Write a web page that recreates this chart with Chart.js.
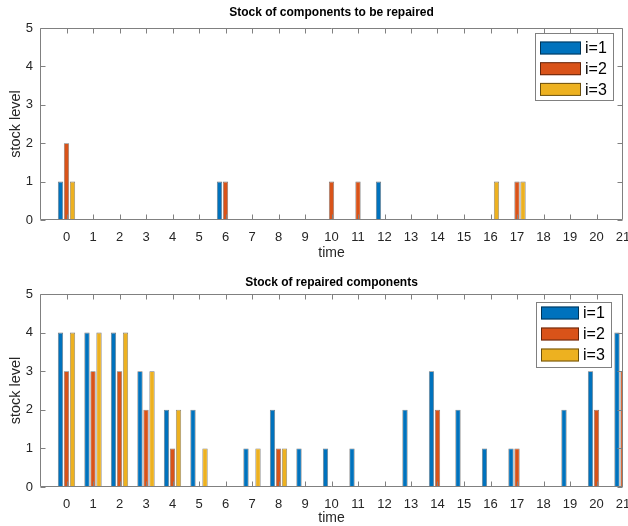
<!DOCTYPE html>
<html><head><meta charset="utf-8">
<script src="https://cdn.jsdelivr.net/npm/chart.js@4.4.0/dist/chart.umd.min.js"></script>
<style>
html,body{margin:0;padding:0;background:#fff;}
#wrap{position:relative;width:628px;height:526px;overflow:hidden;}
.pane{position:absolute;left:0;width:628px;}
canvas{display:block;}
</style></head><body>
<div id="wrap">
<div class="pane" style="top:0;height:262px"><canvas id="c1" width="628" height="262"></canvas></div>
<div class="pane" style="top:262px;height:264px"><canvas id="c2" width="628" height="264"></canvas></div>
</div>
<script>
// ---- data ----
const times = [0,1,2,3,4,5,6,7,8,9,10,11,12,13,14,15,16,17,18,19,20,21];
const tickLabels = ['0','1','2','3','4','5','6','7','8','9','10','11','12','13','14','15','16','17','18','19','20','21'];
const seriesLabels = ['i=1','i=2','i=3'];
const seriesColors = ['#0072BD','#D95319','#EDB120'];
const yTicks = [0,1,2,3,4,5];

const toRepair1 = [1,0,0,0,0,0,1,0,0,0,0,0,1,0,0,0,0,0,0,0,0,0];
const toRepair2 = [2,0,0,0,0,0,1,0,0,0,1,1,0,0,0,0,0,1,0,0,0,0];
const toRepair3 = [1,0,0,0,0,0,0,0,0,0,0,0,0,0,0,0,1,1,0,0,0,0];

const repaired1 = [4,4,4,3,2,2,0,1,2,1,1,1,0,2,3,2,1,1,0,2,3,4];
const repaired2 = [3,3,3,2,1,0,0,0,1,0,0,0,0,0,2,0,0,1,0,0,2,3];
const repaired3 = [4,4,4,3,2,1,0,1,1,0,0,0,0,0,0,0,0,0,0,0,0,4];

const title1 = 'Stock of components to be repaired';
const title2 = 'Stock of repaired components';
const xTitle = 'time';
const yTitle = 'stock level';

// ---- styling helpers ----
const FONT = 'Helvetica, Arial, "Liberation Sans", sans-serif';
const TXT = '#262626';
const AXC = '#808080';

const frame = {
  id: 'frame',
  afterDatasetsDraw(chart) {
    const {ctx, chartArea: a, scales} = chart;
    const L = Math.round(a.left) + 0.5, R = Math.round(a.right) - 0.5;
    const T = Math.round(a.top) + 0.5, B = Math.round(a.bottom) - 0.5;
    ctx.save();
    ctx.strokeStyle = AXC; ctx.lineWidth = 1;
    ctx.beginPath();
    ctx.rect(L, T, R - L, B - T);
    const tl = 5;
    scales.x.ticks.forEach(t => {
      const x = Math.round(scales.x.getPixelForValue(t.value)) + 0.5;
      if (x >= R - 1) return;
      ctx.moveTo(x, B); ctx.lineTo(x, B - tl);
      ctx.moveTo(x, T); ctx.lineTo(x, T + tl);
    });
    scales.y.ticks.forEach(t => {
      const y = Math.round(scales.y.getPixelForValue(t.value)) + 0.5;
      ctx.moveTo(L, y); ctx.lineTo(L + tl, y);
      ctx.moveTo(R, y); ctx.lineTo(R - tl, y);
    });
    ctx.stroke();
    ctx.restore();
  }
};

const titleAndLegend = {
  id: 'titleAndLegend',
  afterDraw(chart, args, opts) {
    const {ctx, chartArea: a} = chart;
    ctx.save();
    ctx.fillStyle = '#000';
    ctx.font = 'bold 12px ' + FONT;
    ctx.textAlign = 'center'; ctx.textBaseline = 'middle';
    ctx.fillText(opts.title, (a.left + a.right) / 2, opts.titleY);
    // legend
    const b = opts.box;
    ctx.fillStyle = '#fff';
    ctx.fillRect(b.x, b.y, b.w, b.h);
    ctx.strokeStyle = AXC; ctx.lineWidth = 1;
    ctx.strokeRect(b.x + 0.5, b.y + 0.5, b.w, b.h);
    ctx.font = '16px ' + FONT;
    ctx.textAlign = 'left';
    chart.data.datasets.forEach((ds, i) => {
      const cy = b.y + opts.row0 + i * opts.rowGap;
      ctx.fillStyle = ds.backgroundColor;
      ctx.fillRect(b.x + opts.swX, cy - 6.5, opts.swW, 13);
      ctx.strokeStyle = 'rgba(0,0,0,0.55)';
      ctx.strokeRect(b.x + opts.swX + 0.5, cy - 6, opts.swW - 1, 12);
      ctx.fillStyle = '#000';
      ctx.fillText(ds.label, b.x + opts.swX + opts.swW + 4, cy + 1);
    });
    ctx.restore();
  }
};

function makeChart(id, series, cfg) {
  return new Chart(document.getElementById(id), {
    type: 'bar',
    data: {
      labels: times,
      datasets: series.map((vals, i) => ({
        label: seriesLabels[i],
        data: vals,
        backgroundColor: seriesColors[i],
        borderColor: 'rgba(0,0,0,0.55)',
        borderWidth: 0.8,
        borderSkipped: false,
        categoryPercentage: 0.68,
        barPercentage: 0.88,
        clip: 0
      }))
    },
    options: {
      responsive: false,
      animation: false,
      events: [],
      layout: { padding: { top: cfg.padTop, right: 5, left: 0, bottom: 0 } },
      plugins: {
        legend: { display: false },
        title: { display: false },
        tooltip: { enabled: false },
        titleAndLegend: cfg.tl
      },
      scales: {
        x: {
          type: 'linear', min: -1, max: 21, offset: false,
          afterBuildTicks: s => { s.ticks = times.map(v => ({ value: v })); },
          afterFit: s => { s.height = cfg.xH; s.paddingLeft = 0; s.paddingRight = 0; },
          grid: { display: false, drawTicks: false, offset: false },
          border: { display: false },
          ticks: {
            autoSkip: false, maxRotation: 0, padding: cfg.xPad,
            color: TXT, font: { family: FONT, size: 13 },
            callback: v => tickLabels[times.indexOf(v)]
          },
          title: { display: true, text: xTitle, color: TXT, font: { family: FONT, size: 14 }, padding: { top: 0, bottom: cfg.xTitlePad } }
        },
        y: {
          min: 0, max: 5,
          afterBuildTicks: s => { s.ticks = yTicks.map(v => ({ value: v })); },
          afterFit: s => { s.width = 40; s.paddingTop = 0; s.paddingBottom = 0; },
          grid: { display: false, drawTicks: false },
          border: { display: false },
          ticks: { padding: 7, color: TXT, font: { family: FONT, size: 13 } },
          title: { display: true, text: yTitle, color: TXT, font: { family: FONT, size: 14.5 }, padding: { top: 7, bottom: 0 } }
        }
      }
    },
    plugins: [frame, titleAndLegend]
  });
}

makeChart('c1', [toRepair1, toRepair2, toRepair3], {
  padTop: 28, xH: 42, xPad: 10, xTitlePad: 0.5,
  tl: { title: title1, titleY: 13, box: { x: 535, y: 33, w: 78, h: 67 }, swX: 5, swW: 41, row0: 15, rowGap: 20.7 }
});
makeChart('c2', [repaired1, repaired2, repaired3], {
  padTop: 32, xH: 39, xPad: 10, xTitlePad: -0.5,
  tl: { title: title2, titleY: 21, box: { x: 536, y: 40, w: 75, h: 65 }, swX: 5, swW: 38, row0: 11, rowGap: 21 }
});
</script>
</body></html>
